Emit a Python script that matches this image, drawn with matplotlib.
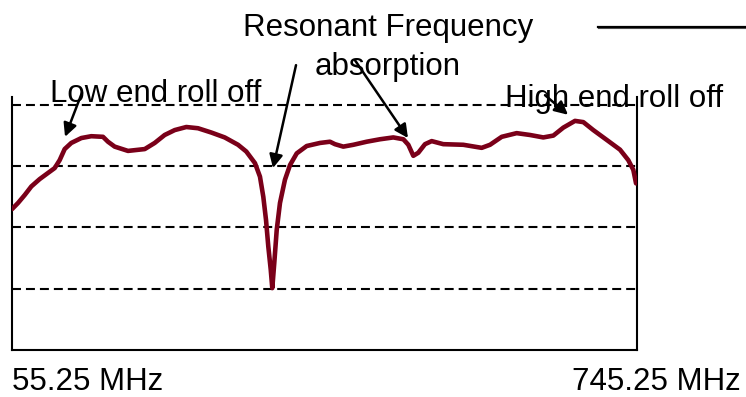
import matplotlib
matplotlib.use("Agg")
import matplotlib.pyplot as plt
from matplotlib.lines import Line2D

plt.rcParams['font.family'] = ['Liberation Sans', 'DejaVu Sans']

# Frequency response (MHz vs relative level)
freq = [55.3, 61.9, 69.3, 76.6, 85.8, 95.0, 102.4, 107.9, 113.4, 120.7,
        131.8, 142.8, 155.7, 161.2, 168.6, 183.3, 201.8, 212.8, 223.8, 234.9,
        247.7, 260.6, 275.3, 290.1, 304.8, 313.9, 323.5, 329.0, 332.7, 335.7,
        338.2, 340.9, 342.6, 344.8, 347.5, 351.1, 356.6, 362.2, 369.6, 380.6,
        395.3, 406.3, 411.8, 421.0, 432.1, 446.8, 461.5, 476.2, 487.3, 492.8,
        498.3, 503.8, 511.2, 518.6, 531.4, 553.5, 573.8, 583.0, 595.9, 612.4,
        627.1, 641.8, 652.9, 663.9, 676.8, 686.0, 697.0, 711.8, 726.5, 735.6,
        741.2, 744.2]
level = [2.30, 2.40, 2.53, 2.67, 2.79, 2.89, 2.97, 3.10, 3.28, 3.38,
         3.46, 3.49, 3.48, 3.40, 3.32, 3.25, 3.28, 3.38, 3.51, 3.59,
         3.64, 3.62, 3.55, 3.47, 3.35, 3.24, 3.05, 2.83, 2.50, 2.12,
         1.69, 1.31, 1.01, 1.42, 1.96, 2.40, 2.78, 3.02, 3.21, 3.33,
         3.38, 3.40, 3.36, 3.32, 3.35, 3.40, 3.44, 3.47, 3.44, 3.35,
         3.17, 3.22, 3.36, 3.41, 3.36, 3.35, 3.30, 3.35, 3.48, 3.54,
         3.51, 3.47, 3.50, 3.63, 3.74, 3.72, 3.59, 3.43, 3.27, 3.10,
         2.94, 2.72]
grid_levels = [1, 2, 3, 4]
f_low, f_high = 55.25, 745.25
label_low = "55.25 MHz"
label_high = "745.25 MHz"

fig = plt.figure(figsize=(7.46, 3.97), dpi=100)
ax = fig.add_axes([12/746, 1-350/397, 625/746, 253/397])
ax.set_xlim(f_low, f_high)
ax.set_ylim(0, 4.13)

for g in grid_levels:
    ax.axhline(g, color='black', lw=1.5, dashes=(4.3, 2.4), zorder=1)

ax.plot(freq, level, color='#7a0019', lw=3.3, solid_joinstyle='round',
        solid_capstyle='round', zorder=3)

for s in ['left', 'bottom', 'right']:
    ax.spines[s].set_linewidth(1.5)
    ax.spines[s].set_color('black')
ax.spines['top'].set_visible(False)
ax.set_xticks([])
ax.set_yticks([])

fs = 22.5
ax.text(f_low, -0.65, label_low, fontsize=fs, ha='left', va='baseline', clip_on=False)
ax.text(860.1, -0.65, label_high, fontsize=fs, ha='right', va='baseline', clip_on=False)

ax.text(97.2, 4.05, "Low end roll off", fontsize=fs, ha='left', va='baseline', clip_on=False)
ax.text(470.4, 5.13, "Resonant Frequency", fontsize=fs, ha='center', va='baseline', clip_on=False)
ax.text(470.4, 4.49, "absorption", fontsize=fs, ha='center', va='baseline', clip_on=False)
ax.text(599.5, 3.97, "High end roll off", fontsize=fs, ha='left', va='baseline', clip_on=False)

arrow_kw = dict(arrowstyle='-|>', color='black', lw=1.8, mutation_scale=20,
                shrinkA=0, shrinkB=0)
ax.annotate("", xy=(113.8, 3.48), xytext=(132.5, 4.20), arrowprops=arrow_kw,
            annotation_clip=False)
ax.annotate("", xy=(343.4, 2.97), xytext=(368.8, 4.65), arrowprops=arrow_kw,
            annotation_clip=False)
ax.annotate("", xy=(492.4, 3.46), xytext=(433.9, 4.73), arrowprops=arrow_kw,
            annotation_clip=False)
ax.annotate("", xy=(669.1, 3.84), xytext=(643.7, 4.16), arrowprops=arrow_kw,
            annotation_clip=False)

# decorative rule at top right
fig.add_artist(Line2D([598/746, 1.0], [1-28.2/397, 1-28.2/397], color='#555555', lw=0.8))
fig.add_artist(Line2D([598/746, 1.0], [1-27/397, 1-27/397], color='black', lw=1.6))

fig.savefig("out.png", dpi=100)
